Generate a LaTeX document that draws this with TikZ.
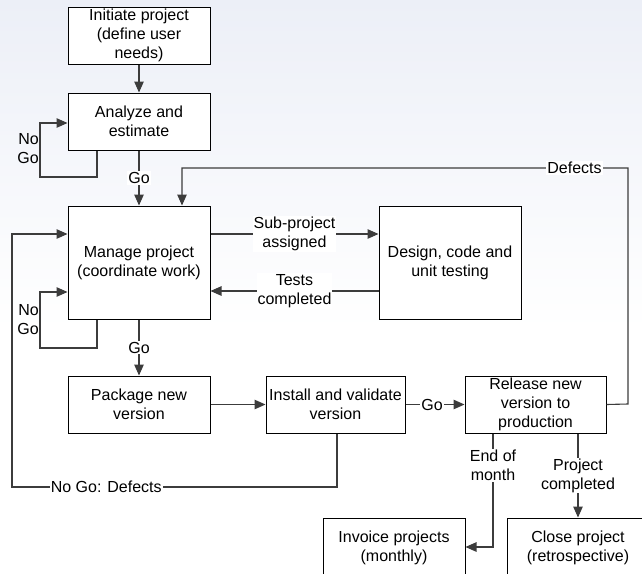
\documentclass[tikz,border=0pt]{standalone}
\usepackage{fontspec}
\setmainfont{Liberation Sans}
\usetikzlibrary{arrows.meta,calc}
\definecolor{bgtop}{RGB}{236,239,247}
\definecolor{linec}{RGB}{60,60,60}
\begin{document}
\begin{tikzpicture}[x=1pt,y=-1pt,
  every node/.style={font=\fontsize{16}{19}\selectfont, text=black},
  box/.style={draw=black, line width=1pt, fill=white, align=center, inner sep=0pt},
  conn/.style={draw=linec, line width=1.1pt},
  arr/.style={conn, -{Triangle[length=11pt,width=9.5pt]}},
  lbl/.style={fill=white, inner sep=1pt, align=center}]
\clip (0,0) rectangle (642,573);
\shade[top color=bgtop, bottom color=white] (0,0) rectangle (642,330);
\fill[white] (0,330) rectangle (642,573);

% boxes
\node[box, minimum width=142, minimum height=57] (init) at (139,35.5) {Initiate project\\(define user\\needs)};
\node[box, minimum width=142, minimum height=57] (analyze) at (139,121.5) {Analyze and\\estimate};
\node[box, minimum width=142, minimum height=113] (manage) at (139,262.5) {Manage project\\(coordinate work)};
\node[box, minimum width=142, minimum height=113] (design) at (450,262.5) {Design, code and\\unit testing};
\node[box, minimum width=142, minimum height=57] (package) at (139,404.5) {Package new\\version};
\node[box, minimum width=139, minimum height=57] (install) at (335.5,404.5) {Install and validate\\version};
\node[box, minimum width=141, minimum height=57] (release) at (535.5,404.5) {Release new\\version to\\production};
\node[box, minimum width=142, minimum height=59] (invoice) at (394,547.5) {Invoice projects\\(monthly)};
\node[box, minimum width=142, minimum height=59] (close) at (578,547.5) {Close project\\(retrospective)};

% corner coordinates
\coordinate (a1) at (97,177);
\coordinate (a2) at (40,177);
\coordinate (m1) at (97,348);
\coordinate (m2) at (40,348);
\coordinate (d1) at (628,404);
\coordinate (d2) at (628,168);
\coordinate (d3) at (182,168);
\coordinate (n1) at (337,487);
\coordinate (n2) at (12,487);
\coordinate (e1) at (493,547);

% connectors
\draw[arr] (init) -- (analyze);
\draw[arr] (analyze.south west -| a1) -- (a1) -- (a2) -- (40,123) -- (analyze.west |- 0,123);
\draw[arr] (analyze) -- node[lbl, pos=0.5] {Go} (manage);
\draw[arr] (release.east) -- (d1) -- (d2) -- node[lbl, pos=0.12] {Defects} (d3) -- (d3 |- manage.north);
\draw[arr] (manage.east |- 0,234) -- node[lbl] {Sub-project\\assigned} (design.west |- 0,234);
\draw[arr] (design.west |- 0,291) -- node[lbl] {Tests\\completed} (manage.east |- 0,291);
\draw[arr] (manage.south west -| m1) -- (m1) -- (m2) -- (40,292) -- (manage.west |- 0,292);
\node[align=right, anchor=east, inner sep=1pt] (ng1) at (40,148.5) {No\\Go};
\node[align=right, anchor=east, inner sep=1pt] (ng2) at (40,319.5) {No\\Go};
\draw[arr] (manage) -- node[lbl, pos=0.5] {Go} (package);
\draw[arr] (package) -- (install);
\draw[arr] (install) -- node[lbl, pos=0.45] {Go} (release);
\draw[arr] (install.south -| n1) -- (n1) -- node[lbl, pos=0.71] {No Go: Defects} (n2) -- (12,234) -- (manage.west |- 0,234);
\draw[arr] (release.south -| e1) -- node[lbl, pos=0.28] {End of\\month} (e1) -- (invoice.east |- e1);
\draw[arr] (release.south -| close.north) -- node[lbl, pos=0.5] {Project\\completed} (close.north);
\end{tikzpicture}
\end{document}
